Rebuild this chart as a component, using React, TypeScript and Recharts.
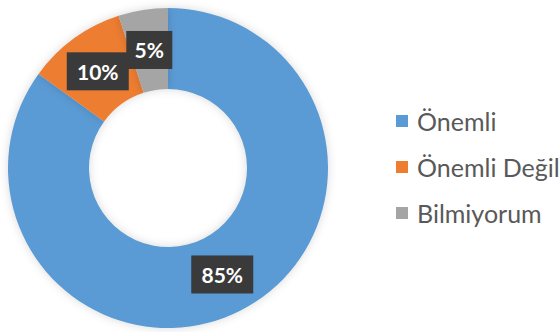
import React from "react";
import { PieChart, Pie, Cell } from "recharts";

const categories = ["Önemli", "Önemli Değil", "Bilmiyorum"];
const values = [85, 10, 5];
const colors = ["#5B9BD5", "#ED7D31", "#A5A5A5"];

const data = categories.map((name, i) => ({ name, value: values[i] }));

const RAD = Math.PI / 180;

// dark box label sitting in the middle of the ring
const renderLabel = (props: any) => {
    const { cx, cy, midAngle, innerRadius, outerRadius, value } = props;
    const r = (innerRadius + outerRadius) / 2;
    const x = cx + r * Math.cos(-midAngle * RAD);
    const y = cy + r * Math.sin(-midAngle * RAD);
    const text = `${value}%`;
    const w = 14 + 16 * text.length;
    const h = 38;
    return (
        <g>
            <rect x={x - w / 2} y={y - h / 2} width={w} height={h} fill="#3A3A3A" />
            <text
                x={x}
                y={y}
                fill="#FFFFFF"
                textAnchor="middle"
                dominantBaseline="central"
                fontFamily="Lato, sans-serif"
                fontWeight={700}
                fontSize={21}
            >
                {text}
            </text>
        </g>
    );
};

const CustomLegend = () => (
    <div
        style={{
            position: "absolute",
            left: 396,
            top: 98,
            fontFamily: "Lato, sans-serif",
            fontSize: 25,
            color: "#595959",
        }}
    >
        {categories.map((c, i) => (
            <div key={c} style={{ display: "flex", alignItems: "center", height: 46 }}>
                <span
                    style={{
                        width: 12,
                        height: 12,
                        background: colors[i],
                        marginRight: 9,
                        display: "inline-block",
                    }}
                ></span>
                {c}
            </div>
        ))}
    </div>
);

export default function App() {
    return (
        <div style={{ position: "absolute", left: 0, top: 0, width: 560, height: 332, background: "#fff" }}>
            <style>{`.recharts-pie-sector { filter: drop-shadow(0 0 5px rgba(0,0,0,0.15)); }`}</style>
            <PieChart width={560} height={332} margin={{ top: 0, right: 0, bottom: 0, left: 0 }}>
                <Pie
                    data={data}
                    dataKey="value"
                    nameKey="name"
                    cx={168}
                    cy={168}
                    innerRadius={79}
                    outerRadius={160}
                    startAngle={90}
                    endAngle={-270}
                    stroke="none"
                    label={renderLabel}
                    labelLine={false}
                    isAnimationActive={false}
                >
                    {data.map((d, i) => (
                        <Cell key={d.name} fill={colors[i]} />
                    ))}
                </Pie>
            </PieChart>
            <CustomLegend />
        </div>
    );
}
